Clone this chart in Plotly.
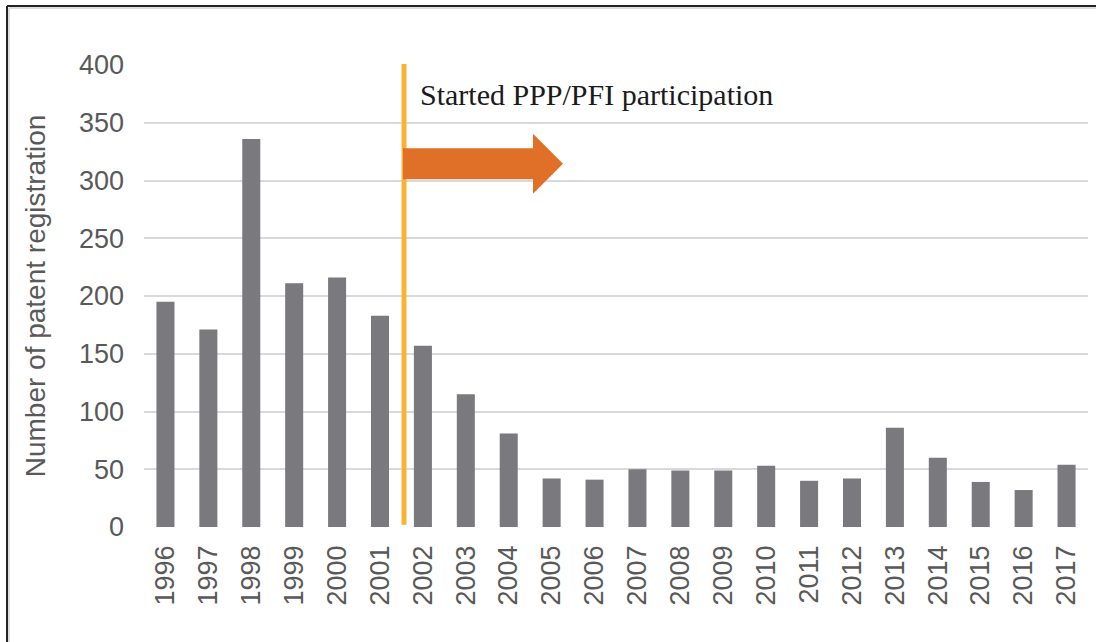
import plotly.graph_objects as go

years = [str(y) for y in range(1996, 2018)]
registrations = [195, 171, 336, 211, 216, 183, 157, 115, 81, 42, 41, 50, 49, 49, 53, 40, 42, 86, 60, 39, 32, 54]
y_ticks = [0, 50, 100, 150, 200, 250, 300, 350, 400]
annotation_text = "Started PPP/PFI participation"

W, H = 1096, 642
ML, MR, MT, MB = 144, 8, 65, 115
pw, ph = W - ML - MR, H - MT - MB

def px_x(px):
    return (px - ML) / pw

def px_y(py):
    return 1 - (py - MT) / ph

fig = go.Figure()
fig.add_trace(go.Bar(x=years, y=registrations, marker=dict(color="#79797E", line=dict(width=0)),
                     hoverinfo="x+y"))

ax_font = dict(family="Liberation Sans, Arial, sans-serif", size=27, color="#595959")

fig.update_layout(
    width=W, height=H,
    margin=dict(l=ML, r=MR, t=MT, b=MB, pad=0),
    paper_bgcolor="white", plot_bgcolor="white",
    bargap=0.58,
    showlegend=False,
    xaxis=dict(type="category", tickangle=-90, tickfont=ax_font, showgrid=False,
               ticks="", ticklabelstandoff=12, showline=False, zeroline=False),
    yaxis=dict(range=[0, 400], tickvals=y_ticks, tickfont=ax_font, showgrid=True,
               gridcolor="#D9D9D9", gridwidth=2, zeroline=False, ticks="",
               ticklabelstandoff=19,
               title=dict(text="Number of patent registration",
                          font=dict(family="Liberation Sans, Arial, sans-serif", size=28, color="#595959"),
                          standoff=25)),
)

# orange vertical marker line between 2001 and 2002
fig.add_shape(type="line", xref="x", yref="paper", x0=5.56, x1=5.56, y0=0.005, y1=1.002,
              line=dict(color="#F9B233", width=5))

# arrow
path = (f"M {px_x(403)},{328} L {px_x(533)},{328} L {px_x(533)},{340.5} "
        f"L {px_x(563)},{314.5} L {px_x(533)},{288.5} L {px_x(533)},{301} "
        f"L {px_x(403)},{301} Z")
fig.add_shape(type="path", xref="paper", yref="y", path=path,
              fillcolor="#E07028", line=dict(width=0))

fig.add_annotation(xref="paper", yref="paper", x=px_x(418), y=px_y(94), xanchor="left", yanchor="middle",
                   text=annotation_text, showarrow=False,
                   font=dict(family="Liberation Serif, Times New Roman, serif", size=30, color="#1a1a1a"))

# outer frame (top and left edges visible)
fig.add_shape(type="line", xref="paper", yref="paper", x0=px_x(7), x1=px_x(1100), y0=px_y(6), y1=px_y(6),
              line=dict(color="#222222", width=2))
fig.add_shape(type="line", xref="paper", yref="paper", x0=px_x(7), x1=px_x(7), y0=px_y(6), y1=px_y(650),
              line=dict(color="#222222", width=2))
fig.add_shape(type="line", xref="paper", yref="paper", x0=px_x(9), x1=px_x(1100), y0=px_y(8), y1=px_y(8),
              line=dict(color="#DDDDDD", width=2))
fig.add_shape(type="line", xref="paper", yref="paper", x0=px_x(9), x1=px_x(9), y0=px_y(8), y1=px_y(650),
              line=dict(color="#DDDDDD", width=2))

fig.write_html("out.html", config={"displayModeBar": False},
               post_script="document.body.style.margin='0';document.body.style.overflow='hidden';")
